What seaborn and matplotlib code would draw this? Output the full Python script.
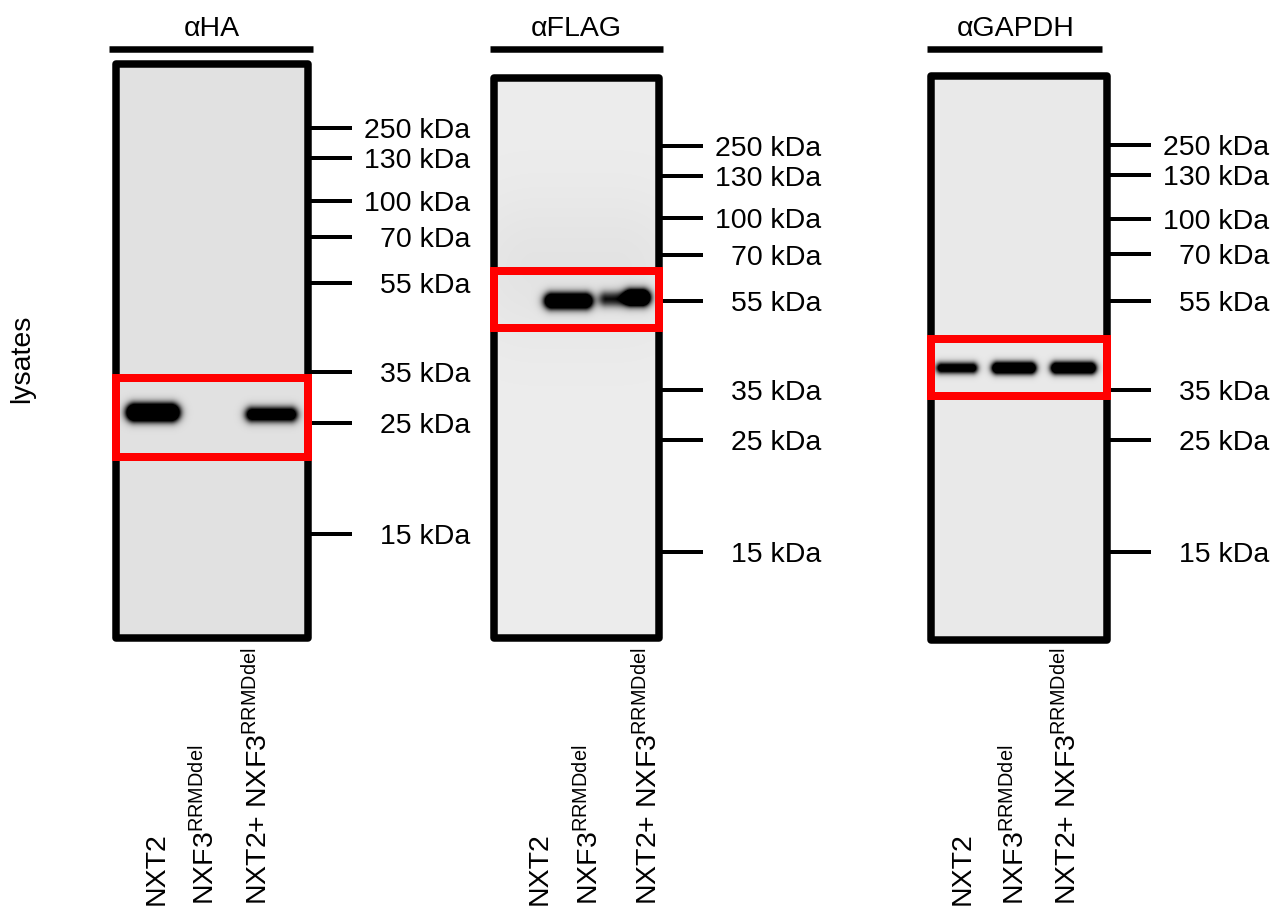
import numpy as np
import matplotlib
matplotlib.use("Agg")
import matplotlib.pyplot as plt
from matplotlib.patches import Rectangle
from matplotlib.lines import Line2D
import seaborn as sns

# ---------------- data ----------------
antibodies = ["αHA", "αFLAG", "αGAPDH"]
lane_labels = ["NXT2", r"NXF3$^{\mathrm{RRMDdel}}$", r"NXT2+ NXF3$^{\mathrm{RRMDdel}}$"]
marker_labels = ["250 kDa", "130 kDa", "100 kDa", "70 kDa", "55 kDa", "35 kDa", "25 kDa", "15 kDa"]
row_label = "lysates"

# ladder migration (px from top of each membrane)
ha_ladder = [64, 94, 137, 173, 219, 308, 359, 470]
flag_ladder = [68, 98, 140, 177, 223, 312, 362, 474]
gapdh_ladder = [69, 99, 143, 178, 225, 314, 364, 476]

# bands: x-centre, half-width, migration, half-thickness, intensity, softness
ha_band_x = [37, 155.5]
ha_band_hw = [27, 25.5]
ha_band_y = [348.5, 350.5]
ha_band_ht = [9, 6.5]
ha_band_int = [1.7, 1.5]
ha_band_soft = [2.2, 2.2]

flag_band_x = [75.5, 131, 144, 83]
flag_band_hw = [24, 24, 12.5, 95]
flag_band_y = [223, 221, 219, 190]
flag_band_ht = [7.5, 6, 7, 55]
flag_band_int = [1.7, 1.0, 1.6, 0.045]
flag_band_soft = [2.3, 2.5, 2.3, 25]

gapdh_band_x = [26, 83, 142.5]
gapdh_band_hw = [20, 22, 22.5]
gapdh_band_y = [292, 292, 292]
gapdh_band_ht = [4.5, 5.5, 5.5]
gapdh_band_int = [1.5, 1.7, 1.7]
gapdh_band_soft = [1.8, 1.8, 1.8]

# ---------------- style ----------------
sns.set_theme(style="white")
plt.rcParams["font.family"] = ["Liberation Sans", "DejaVu Sans"]
plt.rcParams["mathtext.fontset"] = "custom"
plt.rcParams["mathtext.rm"] = "Liberation Sans"
plt.rcParams["mathtext.it"] = "Liberation Sans:italic"
plt.rcParams["mathtext.bf"] = "Liberation Sans:bold"
plt.rcParams["text.color"] = "black"

W_PX, H_PX = 1276, 910
DPI = 100
PT = 72.0 / DPI  # points per pixel
FS = 20.5

fig = plt.figure(figsize=(W_PX / DPI, H_PX / DPI), dpi=DPI)
fig.patch.set_facecolor("white")


def fx(x):
    return x / W_PX


def fy(y):
    return 1 - y / H_PX


def membrane(width, height, bg, bx, bhw, by, bht, bint, bsoft):
    yy, xx = np.mgrid[0:height, 0:width] + 0.5
    dark = np.zeros((height, width))
    for cx, hw, cy, ht, inten, s in zip(bx, bhw, by, bht, bint, bsoft):
        seg_half = max(hw - ht, 0)
        dx = np.clip(np.abs(xx - cx) - seg_half, 0, None)
        dy = yy - cy
        dist = np.sqrt(dx ** 2 + dy ** 2)
        shape = 1.0 / (1.0 + np.exp((dist - ht) / s))
        dark = dark + inten * shape
    dark = np.clip(dark, 0, 1)
    return bg * (1 - dark)


panels = [
    dict(title=antibodies[0], box=(116, 64, 308, 638), bg=0.882, ladder=ha_ladder,
         bands=(ha_band_x, ha_band_hw, ha_band_y, ha_band_ht, ha_band_int, ha_band_soft),
         red=(314, 393), bar=(109, 313), title_x=212, lanes_x=(157, 205, 258)),
    dict(title=antibodies[1], box=(493.5, 78, 659, 638), bg=0.925, ladder=flag_ladder,
         bands=(flag_band_x, flag_band_hw, flag_band_y, flag_band_ht, flag_band_int,
                flag_band_soft),
         red=(193, 250), bar=(490, 663), title_x=576, lanes_x=(540, 589, 648)),
    dict(title=antibodies[2], box=(931, 76, 1107, 640), bg=0.914, ladder=gapdh_ladder,
         bands=(gapdh_band_x, gapdh_band_hw, gapdh_band_y, gapdh_band_ht, gapdh_band_int,
                gapdh_band_soft),
         red=(263, 320), bar=(927, 1102), title_x=1016, lanes_x=(963, 1015, 1067)),
]

for p in panels:
    x0, y0, x1, y1 = p["box"]
    w = int(round(x1 - x0))
    h = int(round(y1 - y0))
    ax = fig.add_axes([fx(x0), fy(y1), (x1 - x0) / W_PX, (y1 - y0) / H_PX])
    img = membrane(w, h, p["bg"], *p["bands"])
    sns.heatmap(img, ax=ax, cmap="gray", vmin=0, vmax=1, cbar=False,
                xticklabels=False, yticklabels=False)
    ax.set_xlim(0, w)
    ax.set_ylim(h, 0)
    ax.set_xticks([])
    ax.set_yticks(p["ladder"])
    ax.set_yticklabels(marker_labels, ha="right")
    ax.yaxis.set_ticks_position("right")
    ax.tick_params(axis="y", which="major", left=False, right=True,
                   labelleft=False, labelright=True, direction="out",
                   length=44 * PT, width=4 * PT, pad=118 * PT,
                   labelsize=FS, color="black", labelcolor="black")
    for sp in ax.spines.values():
        sp.set_visible(False)

    # membrane frame
    ax.add_patch(Rectangle((0, 0), 1, 1, transform=ax.transAxes, fill=False,
                           lw=7.5 * PT, ec="black", joinstyle="round",
                           clip_on=False, zorder=5))
    # red highlight box
    r0, r1 = p["red"]
    ax.add_patch(Rectangle((0, r0), w, r1 - r0, fill=False, lw=8 * PT,
                           ec="#ff0000", joinstyle="miter", clip_on=False, zorder=6))

    # antibody title + bar
    fig.text(fx(p["title_x"]), fy(36), p["title"], ha="center", va="baseline",
             fontsize=FS, color="black")
    bx0, bx1 = p["bar"]
    fig.add_artist(Line2D([fx(bx0), fx(bx1)], [fy(48.5), fy(48.5)],
                          transform=fig.transFigure, lw=6.5 * PT, color="black",
                          solid_capstyle="butt"))

    # lane labels
    for lx, lab in zip(p["lanes_x"], lane_labels):
        fig.text(fx(lx), fy(905), lab, rotation=90, ha="center", va="bottom",
                 fontsize=FS, color="black")

fig.text(fx(22), fy(359), row_label, rotation=90, ha="center", va="center",
         fontsize=FS, color="black")

fig.savefig("out.png", dpi=DPI, facecolor="white")
